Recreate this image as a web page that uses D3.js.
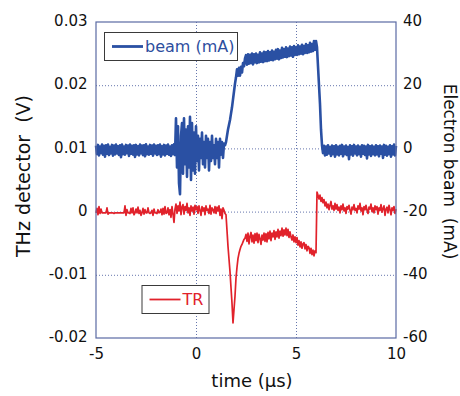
<!DOCTYPE html>
<html>
<head>
<meta charset="utf-8">
<script src="https://cdn.jsdelivr.net/npm/d3@7"></script>
<style>
  html, body { margin: 0; padding: 0; background: #fff; }
  svg { display: block; font-family: "DejaVu Sans", sans-serif; }
  .tick-text text { font-size: 15px; fill: #111; }
  .grid line { stroke: #6676ad; stroke-width: 1; stroke-dasharray: 1 2; }
  .axis-title { fill: #111; white-space: pre; }
</style>
</head>
<body>
<div id="chart"></div>
<script>
// sampling grid of the scope traces (µs)
const timeStart = -5;
const timeStep = 0.05;

// electron beam current (mA), one value per 0.05 µs from -5 to 10
const beamCurrent = [
  0.9,-1.8,1.1,-2.2,0.6,-1.5,1.2,-2.0,0.8,-2.6,1.0,-1.7,1.2,-2.1,0.5,-1.6,1.1,-2.3,0.9,-1.9,
  1.2,-1.6,0.7,-2.1,1.0,-2.8,1.2,-1.8,0.6,-2.0,1.1,-1.5,0.9,-2.4,1.2,-1.7,0.8,-2.0,1.0,-2.7,
  1.1,-1.9,0.7,-2.2,1.2,-1.6,0.9,-2.1,1.0,-2.5,1.3,-1.8,0.6,-2.0,1.1,-1.7,0.9,-2.3,1.2,-1.6,
  0.8,-2.1,1.0,-1.8,1.2,-2.6,0.7,-1.9,1.1,-2.2,0.9,-1.7,1.2,-2.0,0.6,-2.4,1.0,-1.8,1.3,-2.1,
  9.5,-6,7,-11,-14.5,4,8,-8,9.5,-5,6,-9,7,-6,10,-10,8,-7,5,-8,
  7,-4,4,-7,3,-3,5,-5,2,-6,4,-3,3,-7,2,-4,4,-3,1,-5,
  3,-3,2,-6,3,-2,2,-3,1.5,1,2,4,6,7.5,9,11,13,15.5,18,20.5,
  22.5,25,23,25.5,23,25.8,24,27,26,28.5,
  29.5,26.5,29.8,26.8,29.6,27,30,26.6,29.8,27.2,
  30,27,29.6,27.2,30.4,27.4,30,27.3,30.6,27.6,
  30.4,27.6,30.8,27.8,30.4,28,31,27.9,30.6,28.2,
  31.2,28.4,31.4,28.2,31,28.6,31.8,28.8,31.4,29,
  32,28.9,31.6,29.2,32.2,29.4,32,29,32.4,29.6,
  32,29.6,32.6,29.8,32.2,30,32.8,29.8,32.4,30.2,
  33,30.2,32.6,30.4,33.4,30.6,33,30.8,34,31.2,
  34,32,26,20,14,6,1,-1.5,0.8,-2.2,
  0.6,-2.0,1.0,-1.6,0.4,-2.4,0.9,-1.8,0.7,-2.6,
  1.0,-1.9,0.5,-2.2,0.8,-1.7,1.1,-2.5,0.6,-1.8,0.9,-2.1,0.4,-3.4,1.0,-1.9,0.7,-2.3,1.1,-1.6,
  0.6,-2.2,0.9,-1.8,0.5,-2.6,1.0,-1.7,0.8,-2.1,0.6,-3.2,1.1,-1.9,0.7,-2.4,0.9,-1.8,0.5,-2.2,
  1.0,-1.9,0.7,-2.5,0.9,-1.7,0.6,-3.0,1.1,-2.0,0.8,-2.3,0.5,-1.8,1.0,-2.6,0.7,-1.9,1.2,-2.2,0.8
];

// THz detector (TR) signal in mV, same time grid
const trSignal = [
  -0.2,0.5,-0.5,0.8,-0.3,0.4,-0.2,-0.2,-0.2,-0.2,-0.2,0.6,-0.4,-0.2,-0.2,-0.2,-0.2,-0.2,-0.3,-0.2,
  -0.2,-0.2,-0.2,-0.2,-0.2,-0.2,-0.2,-0.2,-0.2,0.9,-0.6,0.3,-0.2,-0.2,-0.3,0.5,-0.2,0.6,-0.5,-0.2,
  0.4,-0.2,0.7,-0.3,0.2,-0.6,-0.2,0.5,-0.4,0.3,-0.2,-0.2,0.6,-0.2,-0.3,-0.2,0.2,-0.6,0.4,-0.2,
  -0.2,-0.3,0.3,-0.2,-0.1,0.4,-0.5,0.5,-0.4,0.8,-0.3,-0.2,0.6,-0.5,0.3,-0.9,0.8,-0.4,-1.7,0.4,
  1.2,-0.3,0.9,0.1,1.5,-0.5,0.7,1.1,-0.4,0.8,0.2,1.3,-0.2,0.6,-0.6,0.9,0.1,0.7,-0.4,1.0,
  0.3,0.8,-0.3,0.9,0.2,-0.6,0.8,0.1,0.6,-0.5,0.9,0.2,0.4,-0.3,1.0,-0.4,0.6,0.3,-0.2,0.8,
  -0.3,0.7,0.1,0.9,-0.6,0.4,-1.1,0.6,0.2,-0.3,-0.5,-3,-5.5,-7.5,-9.5,-12,-14.5,-17.6,-15.5,-13.4,
  -10.5,-8.8,-7.4,-6.6,-6.0,-5.5,-5.2,-4.8,-4.4,-4.2,
  -3.6,-4.7,-3.4,-5.1,-3.9,-3.3,-4.8,-3.7,-5.0,-3.5,
  -4.6,-3.4,-4.9,-3.6,-4.3,-5.2,-3.7,-4.5,-3.4,-4.7,
  -3.5,-4.8,-3.3,-4.3,-3.1,-4.6,-3.4,-4.0,-3.0,-4.4,
  -3.2,-4.0,-2.8,-4.2,-3.1,-3.8,-2.6,-3.9,-2.9,-3.7,
  -2.6,-3.8,-2.8,-4.1,-3.2,-4.0,-4.5,-3.7,-4.8,-4.0,
  -4.9,-4.1,-5.3,-4.6,-5.6,-4.8,-5.8,-5.1,-4.9,-5.9,
  -5.2,-6.2,-5.5,-5.7,-6.6,-5.8,-6.8,-6.1,-7.0,-6.2,
  -6.5,3.1,2.6,2.0,2.6,1.6,2.2,1.4,1.9,0.9,
  1.5,0.6,1.2,0.3,1.0,1.6,0.4,0.9,0.2,1.3,
  0.4,1.1,0.2,0.7,-0.2,0.9,0.3,1.2,0.1,0.6,-0.3,0.8,0.4,1.0,0.2,-0.4,0.7,0.3,1.1,0.2,
  0.5,-0.2,0.9,0.4,1.3,0.1,0.6,-0.5,0.8,0.3,1.0,0.2,-0.3,0.7,0.4,1.2,0.0,0.6,-0.2,0.9,
  0.3,0.8,-0.4,0.6,0.2,1.1,-0.1,0.5,0.9,-0.6,0.4,0.7,-0.2,1.0,0.3,-0.5,0.6,0.2,0.8,-0.3,0.4
];

const timeTicks = [-5, 0, 5, 10];
const voltTicks = [-0.02, -0.01, 0, 0.01, 0.02, 0.03];
const beamTicks = [-60, -40, -20, 0, 20, 40];

// styling

const width = 460;
const height = 396;
const margin = {top: 22, right: 64, bottom: 58, left: 96};
const mainWidth = width - margin.left - margin.right;
const mainHeight = height - margin.top - margin.bottom;

const beamColor = "#2a50a3";
const trColor = "#e1222b";
const frameColor = "#5a6aa3";

const svg = d3.select("#chart").append("svg")
    .attr("width", width)
    .attr("height", height);

const mainChart = svg.append("g")
    .attr("transform", `translate(${margin.left} ${margin.top})`);

const x = d3.scaleLinear().domain([-5, 10]).range([0, mainWidth]);
const yV = d3.scaleLinear().domain([-0.02, 0.03]).range([mainHeight, 0]);
const yI = d3.scaleLinear().domain([-60, 40]).range([mainHeight, 0]);

const hyphen = s => s.replace("\u2212", "-");
const fmtVolt = d => d === 0 ? "0" : hyphen(d3.format(".2f")(d));

// grid

mainChart.append("g")
    .attr("class", "grid")
    .attr("transform", `translate(0 ${mainHeight})`)
    .call(d3.axisBottom(x).tickValues(timeTicks.slice(1, -1)).tickSize(-mainHeight).tickFormat(""))
    .call(g => g.select(".domain").remove());

mainChart.append("g")
    .attr("class", "grid")
    .call(d3.axisLeft(yV).tickValues(voltTicks.slice(1, -1)).tickSize(-mainWidth).tickFormat(""))
    .call(g => g.select(".domain").remove());

// tick labels

mainChart.append("g")
    .attr("class", "tick-text")
    .attr("transform", `translate(0 ${mainHeight})`)
    .call(d3.axisBottom(x).tickValues(timeTicks).tickSize(0).tickPadding(10).tickFormat(d => hyphen(String(d))))
    .call(g => g.select(".domain").remove());

mainChart.append("g")
    .attr("class", "tick-text")
    .call(d3.axisLeft(yV).tickValues(voltTicks).tickSize(0).tickPadding(8.5).tickFormat(fmtVolt))
    .call(g => g.select(".domain").remove())
    .call(g => g.selectAll("text").attr("dy", "0.25em"));

mainChart.append("g")
    .attr("class", "tick-text")
    .attr("transform", `translate(${mainWidth} 0)`)
    .call(d3.axisRight(yI).tickValues(beamTicks).tickSize(0).tickPadding(7).tickFormat(d => hyphen(String(d))))
    .call(g => g.select(".domain").remove())
    .call(g => g.selectAll("text").attr("dy", "0.25em"));

svg.selectAll(".tick-text").attr("font-family", null).attr("font-size", null);

// traces

const beamLine = d3.line()
    .x((d, i) => x(timeStart + i * timeStep))
    .y(d => yI(d));

const trLine = d3.line()
    .x((d, i) => x(timeStart + i * timeStep))
    .y(d => yV(d / 1000));

mainChart.append("path")
    .datum(beamCurrent)
    .attr("fill", "none")
    .attr("stroke", beamColor)
    .attr("stroke-width", 2.6)
    .attr("stroke-linejoin", "round")
    .attr("d", beamLine);

mainChart.append("path")
    .datum(trSignal)
    .attr("fill", "none")
    .attr("stroke", trColor)
    .attr("stroke-width", 1.7)
    .attr("stroke-linejoin", "round")
    .attr("d", trLine);

// legends

const legends = [
    {label: "beam (mA)", color: beamColor, width: 2.8, x: 8.5, y: 10.5, w: 133, textColor: "#2d4e9e"},
    {label: "TR", color: trColor, width: 1.8, x: 46, y: 263.5, w: 67, textColor: trColor}
];

const legend = mainChart.selectAll(".legend")
    .data(legends)
    .join("g")
    .attr("class", "legend")
    .attr("transform", d => `translate(${d.x} ${d.y})`);

legend.append("rect")
    .attr("width", d => d.w)
    .attr("height", 28)
    .attr("fill", "#fff")
    .attr("stroke", "#3a3a3a")
    .attr("stroke-width", 1);

legend.append("line")
    .attr("x1", 7.5).attr("x2", 38.5)
    .attr("y1", 14).attr("y2", 14)
    .attr("stroke", d => d.color)
    .attr("stroke-width", d => d.width);

legend.append("text")
    .attr("x", 40.5)
    .attr("y", 14)
    .attr("dy", "0.36em")
    .attr("font-size", 16)
    .attr("fill", d => d.textColor)
    .text(d => d.label);

// frame

mainChart.append("rect")
    .attr("width", mainWidth)
    .attr("height", mainHeight)
    .attr("fill", "none")
    .attr("stroke", frameColor)
    .attr("stroke-width", 1.2);

// axis titles

svg.append("text")
    .attr("class", "axis-title")
    .attr("x", 252)
    .attr("y", 386.5)
    .attr("text-anchor", "middle")
    .attr("font-size", 18)
    .text("time (\u00b5s)");

svg.append("text")
    .attr("class", "axis-title")
    .attr("transform", "translate(23 176) rotate(-90)")
    .attr("text-anchor", "middle")
    .attr("dominant-baseline", "central")
    .attr("font-size", 19)
    .text("THz detector  (V)");

svg.append("text")
    .attr("class", "axis-title")
    .attr("transform", "translate(450 171.5) rotate(90)")
    .attr("text-anchor", "middle")
    .attr("dominant-baseline", "central")
    .attr("font-size", 17)
    .text("Electron beam  (mA)");
</script>
</body>
</html>
